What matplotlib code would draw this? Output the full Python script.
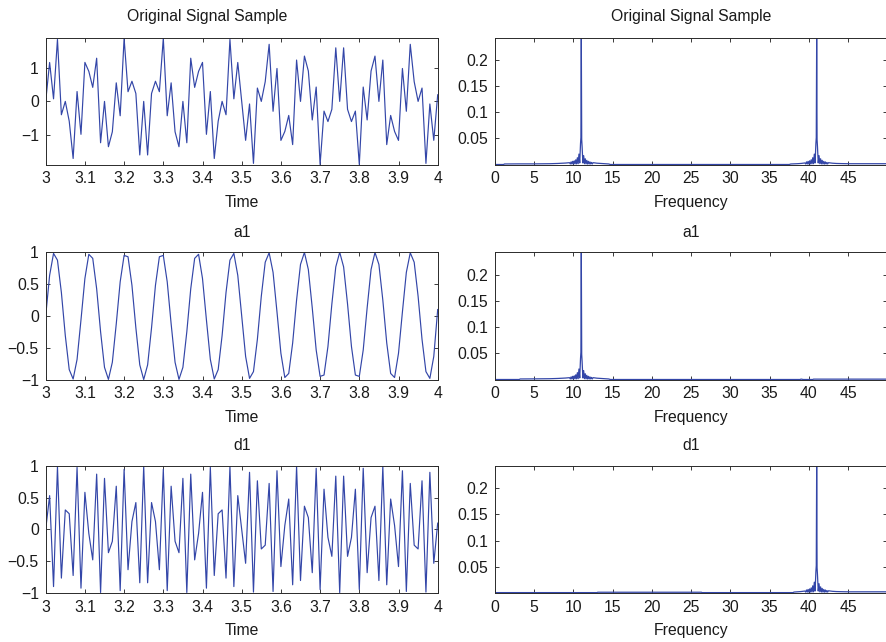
import numpy as np
import matplotlib
matplotlib.use("Agg")
import matplotlib.pyplot as plt

plt.rcParams['font.family'] = ['Liberation Sans', 'DejaVu Sans']

# ---------------------------------------------------------------------------
# Time-domain samples, t = 3.00 ... 4.00 s at 100 Hz
# ---------------------------------------------------------------------------
time = np.linspace(3.0, 4.0, 101)

# level-1 approximation (11 Hz component)
a1 = [0.0, 0.6374, 0.9823, 0.8763, 0.3681, -0.3090, -0.8443, -0.9921, -0.6845, -0.0628,
      0.5878, 0.9686, 0.9048, 0.4258, -0.2487, -0.8090, -0.9980, -0.7290, -0.1253, 0.5358,
      0.9511, 0.9298, 0.4818, -0.1874, -0.7705, -1.0, -0.7705, -0.1874, 0.4818, 0.9298,
      0.9511, 0.5358, -0.1253, -0.7290, -0.9980, -0.8090, -0.2487, 0.4258, 0.9048, 0.9686,
      0.5878, -0.0628, -0.6845, -0.9921, -0.8443, -0.3090, 0.3681, 0.8763, 0.9823, 0.6374,
      0.0, -0.6374, -0.9823, -0.8763, -0.3681, 0.3090, 0.8443, 0.9921, 0.6845, 0.0628,
      -0.5878, -0.9686, -0.9048, -0.4258, 0.2487, 0.8090, 0.9980, 0.7290, 0.1253, -0.5358,
      -0.9511, -0.9298, -0.4818, 0.1874, 0.7705, 1.0, 0.7705, 0.1874, -0.4818, -0.9298,
      -0.9511, -0.5358, 0.1253, 0.7290, 0.9980, 0.8090, 0.2487, -0.4258, -0.9048, -0.9686,
      -0.5878, 0.0628, 0.6845, 0.9921, 0.8443, 0.3090, -0.3681, -0.8763, -0.9823, -0.6374,
      0.1]

# level-1 detail (41 Hz component)
d1 = [0.0, 0.5358, -0.9048, 0.9921, -0.7705, 0.3090, 0.2487, -0.7290, 0.9823, -0.9298,
      0.5878, -0.0628, -0.4818, 0.8763, -0.9980, 0.8090, -0.3681, -0.1874, 0.6845, -0.9686,
      0.9511, -0.6374, 0.1253, 0.4258, -0.8443, 1.0, -0.8443, 0.4258, 0.1253, -0.6374,
      0.9511, -0.9686, 0.6845, -0.1874, -0.3681, 0.8090, -0.9980, 0.8763, -0.4818, -0.0628,
      0.5878, -0.9298, 0.9823, -0.7290, 0.2487, 0.3090, -0.7705, 0.9921, -0.9048, 0.5358,
      0.0, -0.5358, 0.9048, -0.9921, 0.7705, -0.3090, -0.2487, 0.7290, -0.9823, 0.9298,
      -0.5878, 0.0628, 0.4818, -0.8763, 0.9980, -0.8090, 0.3681, 0.1874, -0.6845, 0.9686,
      -0.9511, 0.6374, -0.1253, -0.4258, 0.8443, -1.0, 0.8443, -0.4258, -0.1253, 0.6374,
      -0.9511, 0.9686, -0.6845, 0.1874, 0.3681, -0.8090, 0.9980, -0.8763, 0.4818, 0.0628,
      -0.5878, 0.9298, -0.9823, 0.7290, -0.2487, -0.3090, 0.7705, -0.9921, 0.9048, -0.5358,
      0.1]

# the original signal is the sum of its approximation and detail
signal = np.asarray(a1) + np.asarray(d1)

# ---------------------------------------------------------------------------
# Magnitude spectra (Hz, |X|)
# ---------------------------------------------------------------------------
peak11_freq = [9.6, 9.7, 9.8, 9.9, 10.0, 10.1, 10.2, 10.3, 10.4, 10.5, 10.6, 10.7, 10.8,
               10.9, 10.95, 11.0, 11.05, 11.1, 11.2, 11.3, 11.4, 11.5, 11.6, 11.7, 11.8,
               11.9, 12.0, 12.1, 12.2, 12.3, 12.4, 12.5]
peak41_freq = [39.6, 39.7, 39.8, 39.9, 40.0, 40.1, 40.2, 40.3, 40.4, 40.5, 40.6, 40.7, 40.8,
               40.9, 40.95, 41.0, 41.05, 41.1, 41.2, 41.3, 41.4, 41.5, 41.6, 41.7, 41.8,
               41.9, 42.0, 42.1, 42.2, 42.3, 42.4, 42.5]
peak11_mag = [0.001, 0.005, 0.001, 0.006, 0.001, 0.007, 0.0012, 0.009, 0.0012, 0.013,
              0.0015, 0.020, 0.003, 0.040, 0.052, 0.2425, 0.048, 0.035, 0.003, 0.017, 0.0015,
              0.011, 0.0012, 0.008, 0.001, 0.006, 0.001, 0.005, 0.001, 0.004, 0.001, 0.0035]
peak41_mag = [0.001, 0.005, 0.001, 0.006, 0.001, 0.007, 0.0012, 0.009, 0.0012, 0.013,
              0.0015, 0.020, 0.003, 0.040, 0.052, 0.2425, 0.048, 0.035, 0.003, 0.017, 0.0015,
              0.011, 0.0012, 0.008, 0.001, 0.006, 0.001, 0.005, 0.001, 0.004, 0.001, 0.0035]

# original signal spectrum
orig_freq = np.concatenate([[0.0, 1.1, 1.2, 3.0, 5.0, 7.0, 8.0, 9.0, 9.5], peak11_freq,
                            [13.0, 13.5, 14.0, 14.5, 14.7, 37.5, 37.7, 38.5, 39.0, 39.5],
                            peak41_freq, [43.0, 43.5, 44.0, 45.0, 47.0, 49.9]])
orig_mag = np.concatenate([[0.0, 0.0, 0.001, 0.0012, 0.0012, 0.0015, 0.002, 0.0028, 0.0035],
                           peak11_mag,
                           [0.0025, 0.002, 0.0015, 0.001, 0.0, 0.0, 0.001, 0.0015, 0.002, 0.003],
                           peak41_mag, [0.0025, 0.002, 0.0018, 0.0015, 0.0015, 0.0015]])

# a1 spectrum
a1_freq = np.concatenate([[0.0, 3.1, 3.2, 5.0, 7.0, 8.0, 9.0, 9.5], peak11_freq,
                          [13.0, 13.5, 14.0, 14.5, 14.7, 38.9, 39.0, 39.3, 40.5, 40.6, 49.9]])
a1_mag = np.concatenate([[0.0, 0.0, 0.001, 0.0012, 0.0015, 0.002, 0.0028, 0.0035], peak11_mag,
                         [0.0025, 0.002, 0.0015, 0.001, 0.0, 0.0, 0.0008, 0.0, 0.0, 0.0007, 0.0007]])

# d1 spectrum
d1_freq = np.concatenate([[0.0, 13.0, 13.1, 26.3, 26.4, 38.0, 38.1, 39.0, 39.5], peak41_freq,
                          [43.0, 43.5, 44.0, 45.0, 47.0, 49.9]])
d1_mag = np.concatenate([[0.0, 0.0, 0.0007, 0.0007, 0.0, 0.0, 0.001, 0.002, 0.003], peak41_mag,
                         [0.0025, 0.002, 0.0018, 0.0015, 0.0015, 0.0015]])

titles = ['Original Signal Sample', 'a1', 'd1']
time_ticks = [3.0, 3.1, 3.2, 3.3, 3.4, 3.5, 3.6, 3.7, 3.8, 3.9, 4.0]
time_labels = ['3', '3.1', '3.2', '3.3', '3.4', '3.5', '3.6', '3.7', '3.8', '3.9', '4']
freq_ticks = [0, 5, 10, 15, 20, 25, 30, 35, 40, 45]
mag_ticks = [0.05, 0.1, 0.15, 0.2]
mag_labels = ['0.05', '0.1', '0.15', '0.2']
amp_ticks_top = [-1, 0, 1]
amp_labels_top = ['\u22121', '0', '1']
amp_ticks = [-1, -0.5, 0, 0.5, 1]
amp_labels = ['\u22121', '\u22120.5', '0', '0.5', '1']

# ---------------------------------------------------------------------------
LINE = '#3346a8'
TEXT = '#1a1a1a'
AXIS = '#2a2a2a'
FS = 11.3

W, H = 887, 642
fig = plt.figure(figsize=(W / 100, H / 100), dpi=100)


def px_rect(x0, y0, x1, y1):
    return [x0 / W, 1 - y1 / H, (x1 - x0) / W, (y1 - y0) / H]


rows = [(38.3, 164.5), (252.3, 379.5), (466.3, 592.6)]
left_x = (45.7, 437.7)
right_x = (495.0, 886.5)


def style(ax):
    ax.tick_params(direction='in', length=3.2, width=0.6, top=True, right=True,
                   labelsize=FS, pad=5, colors=TEXT)
    for s in ax.spines.values():
        s.set_linewidth(0.7)
        s.set_color(AXIS)


title_pads = [12.7, 10.8, 11.5]
series = [signal, a1, d1]
spectra = [(orig_freq, orig_mag), (a1_freq, a1_mag), (d1_freq, d1_mag)]

for i, (y0, y1) in enumerate(rows):
    # time domain
    ax = fig.add_axes(px_rect(left_x[0], y0, left_x[1], y1))
    ax.plot(time, series[i], color=LINE, lw=0.85)
    ax.set_xlim(3, 4)
    if i == 0:
        ax.set_ylim(np.min(signal), np.max(signal))
        ax.set_yticks(amp_ticks_top, amp_labels_top)
        ax.set_title(titles[i], fontsize=FS, color=TEXT, pad=title_pads[i], x=0.413)
    else:
        ax.set_ylim(-1, 1)
        ax.set_yticks(amp_ticks, amp_labels)
        ax.set_title(titles[i], fontsize=FS, color=TEXT, pad=title_pads[i])
    ax.set_xticks(time_ticks, time_labels)
    ax.set_xlabel('Time', fontsize=FS, color=TEXT, labelpad=6)
    style(ax)

    # frequency domain
    ax = fig.add_axes(px_rect(right_x[0], y0, right_x[1], y1))
    f, m = spectra[i]
    ax.plot(f, m, color=LINE, lw=0.9)
    ax.set_xlim(0, 49.9)
    ax.set_ylim(0, 0.2425)
    ax.set_xticks(freq_ticks, [str(v) for v in freq_ticks])
    ax.set_yticks(mag_ticks, mag_labels)
    ax.set_title(titles[i], fontsize=FS, color=TEXT, pad=title_pads[i])
    ax.set_xlabel('Frequency', fontsize=FS, color=TEXT, labelpad=6)
    style(ax)

fig.savefig('out.png', dpi=100)
